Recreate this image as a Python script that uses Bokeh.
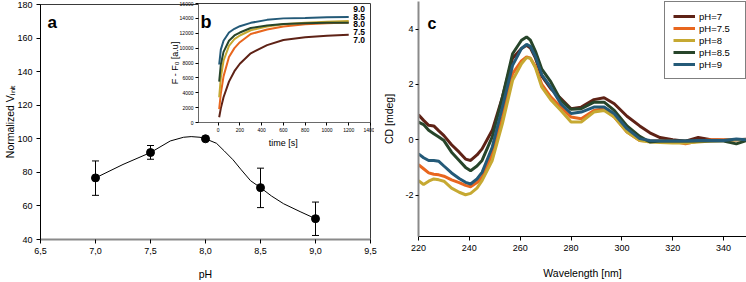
from bokeh.plotting import figure
from bokeh.models import (Range1d, FixedTicker, CustomJSTickFormatter, Label, Whisker, TeeHead,
                          ColumnDataSource, Legend, LegendItem, GridBox)
from bokeh.embed import file_html
from bokeh.resources import INLINE

FONT = "Liberation Sans"

# ---------------- Panel a data ----------------
ph = [7.0, 7.5, 8.0, 8.5, 9.0]
vinit = [76.7, 91.8, 100.0, 70.9, 52.4]
vinit_hi = [86.8, 96.0, 100.0, 82.5, 62.3]
vinit_lo = [66.3, 87.8, 100.0, 59.0, 42.4]
curve_ph = [7.0, 7.25, 7.5, 7.68, 7.8, 7.87, 7.95, 8.0, 8.1, 8.17, 8.25, 8.32, 8.41, 8.5, 8.6, 8.71, 8.86, 9.0]
curve_v = [76.7, 84.7, 91.8, 98.7, 100.9, 101.3, 100.9, 100.0, 97.3, 92.8, 87.5, 81.9, 75.0, 70.9, 65.9, 61.3, 56.6, 52.4]
ph_ticks = [6.5, 7.0, 7.5, 8.0, 8.5, 9.0, 9.5]
v_ticks = [40, 60, 80, 100, 120, 140, 160, 180]

# ---------------- Panel b (inset) data ----------------
time_s = [10, 25, 50, 100, 150, 200, 300, 450, 600, 800, 1000, 1200]
f_ph70 = [700, 1900, 3400, 5500, 6900, 7900, 9300, 10400, 11100, 11450, 11650, 11800]
f_ph75 = [1800, 3900, 6200, 8800, 10000, 10800, 11900, 12500, 12900, 13200, 13350, 13450]
f_ph80 = [3400, 6000, 8300, 10300, 11200, 11700, 12400, 12900, 13200, 13400, 13550, 13650]
f_ph85 = [5500, 7800, 9500, 11000, 11700, 12100, 12700, 13050, 13250, 13350, 13400, 13400]
f_ph90 = [7800, 9800, 11000, 12100, 12600, 12950, 13400, 13800, 14000, 14050, 14150, 14200]
inset_labels = ["9.0", "8.5", "8.0", "7.5", "7.0"]
time_ticks = [0, 200, 400, 600, 800, 1000, 1200, 1400]
f_ticks = [0, 2000, 4000, 6000, 8000, 10000, 12000, 14000, 16000]

# ---------------- Panel c data ----------------
wl = [220, 222, 224, 226, 228, 230, 233, 236, 238.5, 240.5, 243, 245, 249, 253, 257, 260.5, 262.5,
      264, 266, 268.5, 272, 276, 280, 284, 289, 293, 297, 302, 307, 311, 315, 320, 325, 330, 335,
      340, 345, 349]
cd_ph7 = [0.90, 0.70, 0.52, 0.50, 0.32, 0.15, -0.18, -0.45, -0.70, -0.75, -0.55, -0.33,
          0.34, 1.54, 2.95, 3.30, 3.42, 3.32, 2.95, 2.30, 1.85, 1.49, 1.12, 1.18, 1.45, 1.52, 1.30,
          0.85, 0.50, 0.25, 0.08, 0.00, -0.05, 0.08, 0.00, -0.02, 0.00, 0.02]
cd_ph75 = [-0.90, -1.05, -1.20, -1.25, -1.27, -1.32, -1.45, -1.55, -1.65, -1.70, -1.55, -1.36,
           -0.51, 0.82, 2.39, 2.85, 3.00, 2.95, 2.65, 2.00, 1.55, 1.18, 0.82, 0.76, 1.06, 1.12, 0.82,
           0.28, -0.03, -0.05, -0.05, -0.05, -0.15, -0.05, 0.00, 0.00, 0.00, 0.00]
cd_ph8 = [-1.48, -1.62, -1.50, -1.42, -1.45, -1.50, -1.75, -1.90, -1.99, -1.94, -1.75, -1.48,
          -0.75, 0.58, 2.15, 2.75, 2.97, 2.95, 2.60, 1.90, 1.45, 1.06, 0.64, 0.64, 1.00, 1.06, 0.82,
          0.28, -0.03, -0.08, -0.10, -0.12, -0.12, -0.08, -0.05, -0.03, 0.00, 0.00]
cd_ph85 = [0.64, 0.55, 0.34, 0.22, 0.10, -0.03, -0.45, -0.75, -1.00, -1.12, -0.95, -0.75,
           0.10, 1.54, 3.11, 3.60, 3.72, 3.60, 3.20, 2.55, 2.10, 1.42, 1.10, 1.12, 1.36, 1.36, 1.06,
           0.50, 0.12, -0.08, -0.05, -0.05, -0.05, -0.05, -0.05, -0.05, -0.15, -0.03]
cd_ph9 = [-0.51, -0.65, -0.75, -0.75, -0.78, -0.95, -1.20, -1.40, -1.54, -1.60, -1.42, -1.18,
          -0.27, 1.18, 2.69, 3.30, 3.45, 3.38, 3.00, 2.35, 1.90, 1.30, 0.95, 1.00, 1.18, 1.18, 0.94,
          0.40, 0.04, -0.03, -0.05, -0.05, -0.05, -0.03, -0.03, -0.03, 0.03, 0.00]
cd_names = ["pH=7", "pH=7.5", "pH=8", "pH=8.5", "pH=9"]
wl_ticks = [220, 240, 260, 280, 300, 320, 340]
cd_ticks = [-2, 0, 2, 4]

COL_7 = "#5e2216"
COL_75 = "#e8661e"
COL_8 = "#c6a932"
COL_85 = "#27452a"
COL_9 = "#245a78"


def style_axis(ax, size, line_color="black", line_width=1, tick_out=4, standoff=4,
               title=None, title_size="10.5px", title_standoff=5):
    ax.major_label_text_font = FONT
    ax.major_label_text_font_size = size
    ax.major_label_text_color = "black"
    ax.axis_line_color = line_color
    ax.axis_line_width = line_width
    ax.major_tick_line_color = "black"
    ax.major_tick_in = 0
    ax.major_tick_out = tick_out
    ax.minor_tick_line_color = None
    ax.major_label_standoff = standoff
    if title is not None:
        ax.axis_label = title
        ax.axis_label_text_font = FONT
        ax.axis_label_text_font_size = title_size
        ax.axis_label_text_font_style = "normal"
        ax.axis_label_text_color = "black"
        ax.axis_label_standoff = title_standoff


def lab(p, x, y, text, size, bold=False, align="left", baseline="alphabetic"):
    p.add_layout(Label(x=x, y=y, x_units="screen", y_units="screen", text=text,
                       text_font=FONT, text_font_size=size,
                       text_font_style="bold" if bold else "normal",
                       text_align=align, text_baseline=baseline, text_color="black"))


# ================= Panel a =================
pa = figure(width=380, height=282, x_range=Range1d(6.5, 9.5), y_range=Range1d(40, 180),
            output_backend="svg", toolbar_location=None,
            min_border_left=40, min_border_right=10, min_border_top=4, min_border_bottom=41)
pa.xgrid.visible = False
pa.ygrid.visible = False
pa.outline_line_color = "#3a3a3a"
pa.background_fill_color = "white"
pa.border_fill_color = "white"
pa.xaxis.ticker = FixedTicker(ticks=ph_ticks)
pa.xaxis.formatter = CustomJSTickFormatter(code="return tick.toFixed(1).replace('.', ',')")
pa.yaxis.ticker = FixedTicker(ticks=v_ticks)
pa.yaxis.formatter = CustomJSTickFormatter(code="return tick.toFixed(0)")
style_axis(pa.xaxis[0], "9px", line_color="#8a8a8a", line_width=2, tick_out=4, standoff=4,
           title="pH", title_standoff=11)
style_axis(pa.yaxis[0], "9px", line_color="black", line_width=1, tick_out=4, standoff=4,
           title="Normalized V\u1d62\u2099\u1d62\u209c", title_standoff=-2)

pa.line(curve_ph, curve_v, line_color="black", line_width=1)
src_a = ColumnDataSource(dict(ph=ph, v=vinit, hi=vinit_hi, lo=vinit_lo))
pa.add_layout(Whisker(base="ph", upper="hi", lower="lo", source=src_a, line_color="black",
                      line_width=1,
                      upper_head=TeeHead(size=7, line_color="black", line_width=1),
                      lower_head=TeeHead(size=7, line_color="black", line_width=1)))
pa.scatter("ph", "v", source=src_a, size=8, fill_color="black", line_color="black")
lab(pa, 7, 217, "a", "17px", bold=True)

# ================= Panel b (inset) =================
pb = figure(width=214, height=150, x_range=Range1d(-180, 1400), y_range=Range1d(0, 16000),
            output_backend="svg", toolbar_location=None,
            min_border_left=38, min_border_right=4, min_border_top=3, min_border_bottom=24)
pb.xgrid.visible = False
pb.ygrid.visible = False
pb.outline_line_color = "#3a3a3a"
pb.background_fill_color = "white"
pb.border_fill_color = None
pb.border_fill_alpha = 0
pb.xaxis.ticker = FixedTicker(ticks=time_ticks)
pb.xaxis.formatter = CustomJSTickFormatter(code="return tick.toFixed(0)")
pb.yaxis.ticker = FixedTicker(ticks=f_ticks)
pb.yaxis.formatter = CustomJSTickFormatter(code="return tick.toFixed(0)")
style_axis(pb.xaxis[0], "5px", line_color="#6a6a6a", tick_out=3, standoff=2,
           title="time  [s]", title_size="9px", title_standoff=3)
style_axis(pb.yaxis[0], "5px", line_color="#6a6a6a", tick_out=3, standoff=2,
           title="F - F\u2080 [a.u]", title_size="9px", title_standoff=-3)

for ys, c in [(f_ph70, COL_7), (f_ph75, COL_75), (f_ph80, COL_8), (f_ph85, COL_85), (f_ph90, COL_9)]:
    pb.line(time_s, ys, line_color=c, line_width=2)

for txt, yy in zip(inset_labels, [113.5, 106, 99, 91, 82.5]):
    lab(pb, 154.7, yy, txt, "8.5px", bold=True, baseline="middle")
lab(pb, 2, 101, "b", "18px", bold=True)

# ================= Panel c =================
pc = figure(width=366, height=282, x_range=Range1d(220, 349), y_range=Range1d(-3.5, 5),
            output_backend="svg", toolbar_location=None,
            min_border_left=36, min_border_right=0, min_border_top=1, min_border_bottom=46)
pc.xgrid.visible = False
pc.ygrid.visible = False
pc.outline_line_color = None
pc.background_fill_color = "white"
pc.border_fill_color = "white"
pc.xaxis.ticker = FixedTicker(ticks=wl_ticks)
pc.xaxis.formatter = CustomJSTickFormatter(code="return tick.toFixed(0)")
pc.yaxis.ticker = FixedTicker(ticks=cd_ticks)
pc.yaxis.formatter = CustomJSTickFormatter(code="return String(tick)")
style_axis(pc.xaxis[0], "9px", line_color="black", line_width=1, tick_out=4, standoff=4,
           title="Wavelength [nm]", title_standoff=13)
style_axis(pc.yaxis[0], "9px", line_color="#8a8a8a", line_width=2, tick_out=3, standoff=2,
           title="CD [mdeg]", title_standoff=7)

items = []
for name, ys, c in zip(cd_names, [cd_ph7, cd_ph75, cd_ph8, cd_ph85, cd_ph9],
                       [COL_7, COL_75, COL_8, COL_85, COL_9]):
    r = pc.line(wl, ys, line_color=c, line_width=3)
    items.append(LegendItem(label=name, renderers=[r]))
legend = Legend(items=items, location="top_right", margin=0, padding=8, spacing=0,
                glyph_width=22, glyph_height=12, label_height=12, label_width=38,
                label_standoff=4, label_text_font=FONT, label_text_font_size="9.5px",
                label_text_color="black", border_line_color="black", border_line_width=1,
                background_fill_color="white", background_fill_alpha=1.0)
pc.add_layout(legend)
lab(pc, 9, 212.7, "c", "16px", bold=True)

# distinct grid lines for every panel so that frames are not aligned with each other
grid = GridBox(children=[(pa, 0, 0, 4, 3), (pb, 1, 1, 2, 1), (pc, 2, 3, 4, 1)],
               rows=["0px", "0px", "150px", "132px", "0px", "0px"],
               cols=["160px", "214px", "6px", "366px"], spacing=0)

open("out.html", "w").write(file_html(grid, INLINE))
